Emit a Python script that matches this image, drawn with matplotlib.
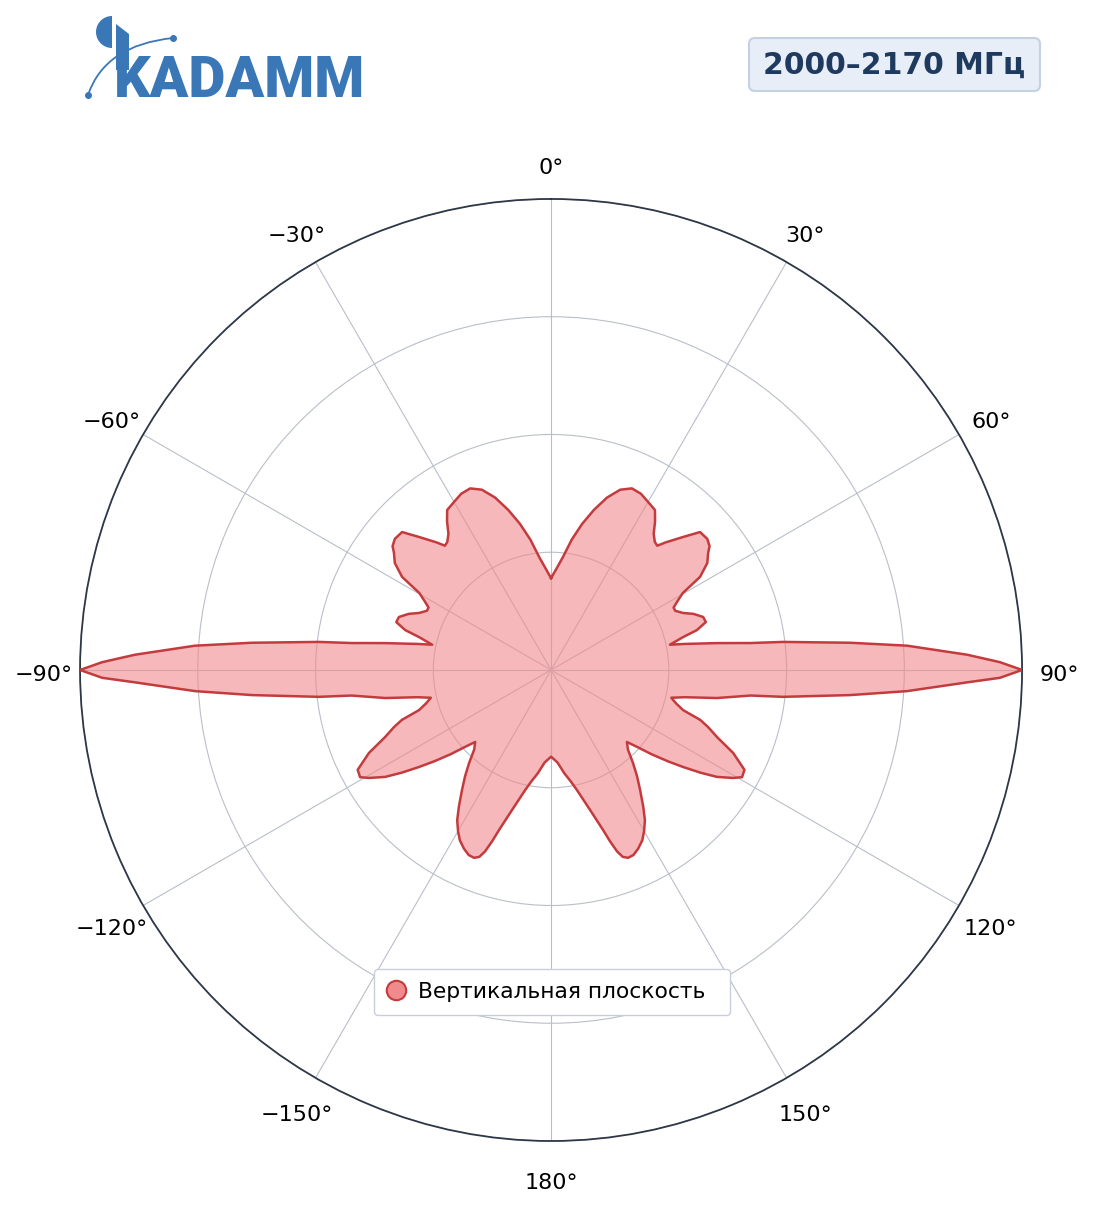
import matplotlib
matplotlib.use("Agg")
import matplotlib.pyplot as plt
import numpy as np
from matplotlib.lines import Line2D
from matplotlib.patches import Wedge, Polygon, PathPatch, FancyBboxPatch
from matplotlib.path import Path
from matplotlib.transforms import ScaledTranslation

# right half of the vertical pattern, 0..180 deg (clockwise from top); the left half is its mirror
half_angles = [0, 3, 6, 9, 12, 15, 18, 21, 24, 27, 30, 33, 35, 37, 39, 40.5,
               42, 44.8, 47.2, 50, 52, 53.3, 55.6, 58, 59.7, 61.5, 63, 64.5, 66.6,
               68.5, 70.8, 72.8, 74.7, 76, 78, 79, 80.8, 82.3, 83.1, 84.8, 86.1,
               87.9, 89, 90, 91, 91.7, 93.4, 94.8, 96.6, 97.3, 99.6, 101.5, 103,
               105, 106.9, 108.5, 110, 112, 114.5, 117.3, 119.3, 120.7, 122.8,
               124.5, 126.3, 128, 130, 131.8, 133.5, 136, 138.6, 141, 143.4, 146,
               148, 150, 151.8, 154, 156, 157.7, 159, 160, 161, 162, 164.4, 167.9,
               170, 172.7, 176, 180]
half_gain = [0.195, 0.215, 0.241, 0.28, 0.317, 0.352, 0.385, 0.41, 0.422, 0.42, 0.412,
             0.405, 0.385, 0.362, 0.35, 0.347,
             0.365, 0.398, 0.431, 0.433, 0.427, 0.416, 0.402, 0.373, 0.324, 0.305,
             0.292, 0.292, 0.305,
             0.325, 0.342, 0.344, 0.321, 0.289, 0.258, 0.29, 0.357, 0.427, 0.496,
             0.638, 0.758,
             0.884, 0.953, 1.0, 0.953, 0.884, 0.757, 0.637, 0.496, 0.427, 0.357,
             0.29, 0.262,
             0.275, 0.293, 0.334, 0.355, 0.38, 0.425, 0.462, 0.465, 0.449, 0.419,
             0.385, 0.348, 0.315, 0.278, 0.245, 0.222, 0.235, 0.263, 0.29, 0.317,
             0.35,
             0.376, 0.395, 0.41, 0.422, 0.43, 0.431, 0.425, 0.41, 0.385, 0.357,
             0.309, 0.26,
             0.24, 0.221, 0.197, 0.184]

tick_angles = [0, 30, 60, 90, 120, 150, 180, 210, 240, 270, 300, 330]
tick_labels = ["0°", "30°", "60°", "90°", "120°", "150°", "180°",
               "−150°", "−120°", "−90°", "−60°", "−30°"]
ring_levels = [0.25, 0.5, 0.75, 1.0]
band_label = "2000–2170 МГц"
series_label = "Вертикальная плоскость"
logo_text = "KADAMM"

LINE = "#c43b3d"
FILL = "#f08a8c"
LOGO = "#3a77b7"

ha = np.array(half_angles, dtype=float)
hg = np.array(half_gain, dtype=float)
theta = np.deg2rad(np.concatenate([ha, 360 - ha[-2::-1]]))
gain = np.concatenate([hg, hg[-2::-1]])

fig = plt.figure(figsize=(11.04, 12.11), dpi=100)
fig.patch.set_facecolor("white")

ax = fig.add_axes([0.0725, 0.0578, 0.8533, 0.7779], projection="polar")
ax.set_theta_zero_location("N")
ax.set_theta_direction(-1)
ax.set_ylim(0, 1)
ax.set_thetagrids(tick_angles, tick_labels, fontsize=16, va="center_baseline")
ax.set_rgrids(ring_levels, labels=[])
ax.tick_params(axis="x", pad=16)
ax.grid(True, color="#b9bfc9", linewidth=0.8)
ax.spines["polar"].set_color("#2d3748")
ax.spines["polar"].set_linewidth(1.3)

# nudge the angle labels a few pixels down
nudge = ScaledTranslation(0, -3.5 / 100, fig.dpi_scale_trans)
for lab in ax.get_xticklabels():
    lab.set_transform(lab.get_transform() + nudge)

ax.fill(theta, gain, color=FILL, alpha=0.6, linewidth=0, zorder=3)
ax.plot(theta, gain, color=LINE, linewidth=1.8, zorder=4)

handle = Line2D([], [], linestyle="none", marker="o", markersize=14,
                markerfacecolor=FILL, markeredgecolor=LINE, markeredgewidth=1.5)
leg = fig.legend(handles=[handle], labels=[series_label], loc="center",
                 bbox_to_anchor=(374 / 1104, 1 - 1016 / 1211, 356 / 1104, 48 / 1211),
                 mode="expand", fontsize=15.7, frameon=True,
                 fancybox=True, framealpha=1, edgecolor="#c8cfdb",
                 handlelength=0.8, handletextpad=0.62, borderpad=0.6,
                 borderaxespad=0)

# overlay in pixel coordinates for the logo and the band label
ov = fig.add_axes([0, 0, 1, 1])
ov.set_xlim(0, 1104)
ov.set_ylim(1211, 0)
ov.axis("off")

box = FancyBboxPatch((749, 38), 291, 53, boxstyle="round,pad=0,rounding_size=6",
                     facecolor="#e8eef7", edgecolor="#c3d1e3", linewidth=1.5)
ov.add_patch(box)
ov.text(894.5, 65, band_label, ha="center", va="center", fontsize=21.5,
        fontweight="bold", color="#1e3a5f")

ov.add_patch(Wedge((112, 32), 16, 90, 270, facecolor=LOGO, edgecolor="none"))
ov.add_patch(Polygon([(116, 24), (129, 34), (129, 70), (116, 70)],
                     closed=True, facecolor=LOGO, edgecolor="none"))
arc = Path([(88, 95), (105, 45), (173, 38)], [Path.MOVETO, Path.CURVE3, Path.CURVE3])
ov.add_patch(PathPatch(arc, facecolor="none", edgecolor=LOGO, linewidth=1.3))
ov.plot([88, 173], [95, 38], linestyle="none", marker="o", markersize=4, color=LOGO)
ov.text(114, 97, logo_text, ha="left", va="baseline", fontsize=41,
        family="Roboto", fontweight="heavy", color=LOGO)

fig.savefig("out.png", dpi=100, facecolor="white")
